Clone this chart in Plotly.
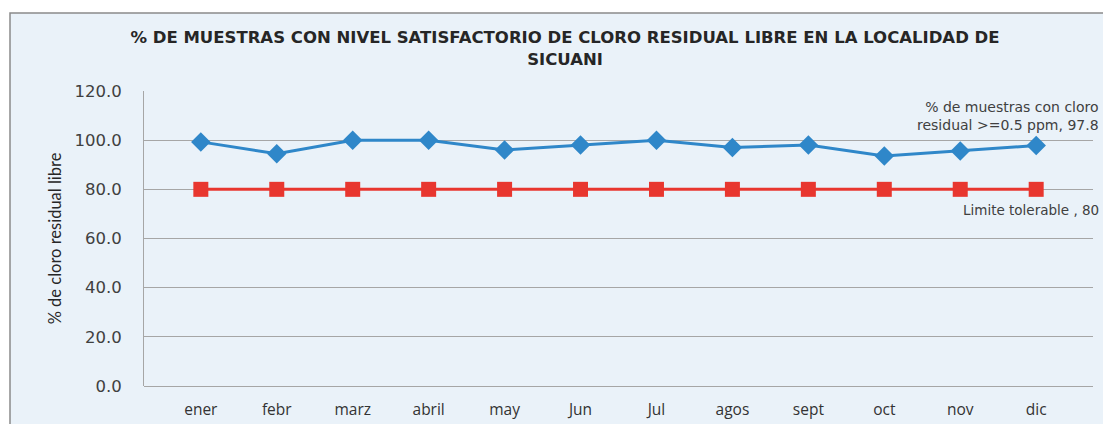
import plotly.graph_objects as go

# data
meses = ["ener", "febr", "marz", "abril", "may", "Jun", "Jul", "agos", "sept", "oct", "nov", "dic"]
pct_muestras = [99.3, 94.5, 100.0, 100.0, 96.0, 98.0, 100.0, 97.0, 98.0, 93.6, 95.6, 97.8]
limite_tolerable = [80, 80, 80, 80, 80, 80, 80, 80, 80, 80, 80, 80]
y_ticks = [0, 20, 40, 60, 80, 100, 120]

font_main = "Open Sans, Lato, sans-serif"
font_wide = "DejaVu Sans, sans-serif"
txt_color = "#404040"

fig = go.Figure()

fig.add_trace(go.Scatter(
    x=meses, y=pct_muestras, mode="lines+markers",
    name="% de muestras con cloro residual >=0.5 ppm",
    line=dict(color="#2f87c9", width=3),
    marker=dict(symbol="diamond", size=15, color="#2f87c9"),
))
fig.add_trace(go.Scatter(
    x=meses, y=limite_tolerable, mode="lines+markers",
    name="Limite tolerable",
    line=dict(color="#e8362f", width=3),
    marker=dict(symbol="square", size=15, color="#e8362f"),
))

# labels at the end of each series
fig.add_annotation(
    text="% de muestras con cloro<br>residual >=0.5 ppm, " + f"{pct_muestras[-1]:.1f}",
    xref="paper", yref="paper", x=1.008, y=0.915, xanchor="right", yanchor="middle",
    align="right", showarrow=False, font=dict(family=font_wide, size=14, color=txt_color),
)
fig.add_annotation(
    text=f"Limite tolerable , {limite_tolerable[-1]}",
    xref="paper", yref="paper", x=1.008, y=0.597, xanchor="right", yanchor="middle",
    align="right", showarrow=False, font=dict(family=font_wide, size=13.5, color=txt_color),
)

# chart-area frame
fig.add_shape(
    type="rect", xref="paper", yref="paper", x0=-0.1412, x1=1.03, y0=-0.2, y1=1.264,
    line=dict(color="#8a8a8a", width=1.5), fillcolor="#eaf2f9", layer="below",
)

# page body has an 8px margin, so the figure is shifted by 8px
fig.update_layout(
    width=1103, height=416,
    margin=dict(l=136, r=18, t=83, b=38),
    paper_bgcolor="white",
    plot_bgcolor="rgba(0,0,0,0)",
    showlegend=False,
    title=dict(
        text="<b>% DE MUESTRAS CON NIVEL SATISFACTORIO DE CLORO RESIDUAL LIBRE EN LA LOCALIDAD DE<br>SICUANI</b>",
        x=0.505, xanchor="center", y=0.915, yanchor="middle",
        font=dict(family=font_wide, size=16.5, color="#262626"),
    ),
    font=dict(family=font_main, color=txt_color),
)

fig.update_xaxes(
    type="category", showgrid=False, showline=False, ticks="", ticklabelstandoff=12,
    automargin=False,
    tickfont=dict(size=15.5, color="#333333"),
)
fig.update_yaxes(
    range=[0, 120], tickvals=y_ticks, tickformat=".1f",
    showgrid=True, gridcolor="#a6a6a6", gridwidth=1,
    showline=True, linecolor="#a6a6a6", linewidth=1,
    zeroline=True, zerolinecolor="#a6a6a6", zerolinewidth=1,
    ticks="", ticklen=0, ticklabelstandoff=18, automargin=False,
    tickfont=dict(family=font_wide, size=16.5, color=txt_color),
    title=dict(text="% de cloro residual libre", font=dict(family="Lato, sans-serif", size=16.5, color="#262626"), standoff=8),
)

fig.write_html("out.html")
